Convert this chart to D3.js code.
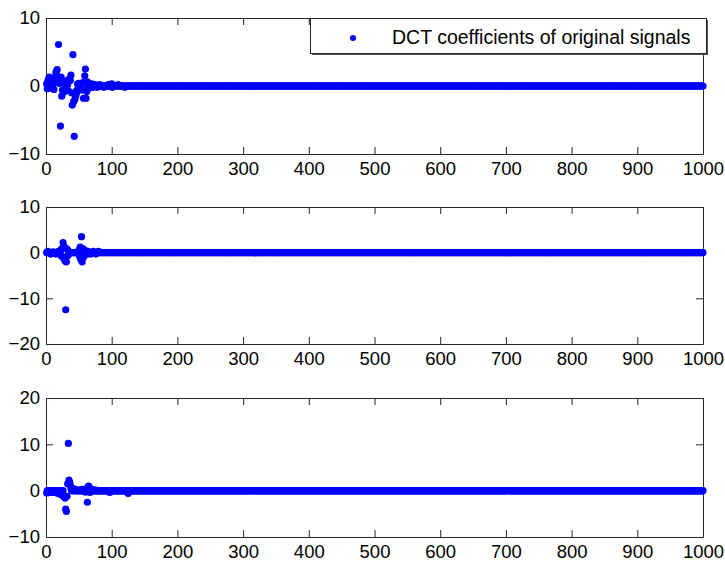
<!DOCTYPE html>
<html>
<head>
<meta charset="utf-8">
<script src="https://cdn.jsdelivr.net/npm/d3@7"></script>
<style>
  html, body { margin: 0; padding: 0; background: #fff; }
  svg { display: block; }
  .tick text { font-family: "Liberation Sans", Arial, sans-serif; font-size: 18.5px; fill: #000; }
  .legend text { font-family: "Liberation Sans", Arial, sans-serif; font-size: 19.5px; fill: #000; }
</style>
</head>
<body>
<script>
// DCT coefficients, 1000 per signal; only the visibly non-zero ones are listed (index, value)
const N = 1000;

const idx1 = [1, 2, 3, 4, 5, 6, 7, 8, 9, 10, 11, 12, 13, 14, 15, 16, 17, 18, 19, 20,
  21, 22, 23, 24, 25, 26, 27, 28, 29, 30, 31, 32, 33, 34, 35, 36, 37, 38, 39, 40,
  41, 42, 43, 44, 45, 46, 47, 48, 49, 50, 51, 52, 53, 54, 55, 56, 57, 58, 59, 60,
  61, 62, 63, 64, 65, 66, 67, 68, 70, 72, 75, 78, 82, 88, 95, 100, 101, 110, 120];
const val1 = [0.3, -0.4, 0.8, 1.0, 1.3, 0.5, -0.3, 0.9, 0.6, 1.1, 0.4, -0.5, 0.7, 1.2, 1.9, 2.2, 2.4, 0.8, 6.1, 0.4,
  1.0, -5.9, 1.3, -1.5, -0.6, 0.5, -0.9, 0.3, -0.4, 0.6, -0.3, 0.8, 0.2, -0.7, 0.9, 1.1, 0.8, 1.6, -1.0, -2.8,
  4.6, -2.3, -7.4, -2.0, -1.5, -1.2, -0.6, 0.3, -0.6, 0.4, -0.5, 0.2, -0.4, 0.3, -0.6, 0.5, -1.8, 0.4, 1.5, 2.5,
  -1.8, -0.8, 0.6, -0.4, 0.3, -0.3, 0.2, -0.2, 0.3, -0.2, 0.2, -0.2, 0.2, -0.2, 0.2, 0.3, -0.2, 0.2, -0.2];

const idx2 = [3, 7, 11, 15, 19, 21, 22, 23, 24, 25, 26, 27, 28, 29, 30, 31, 32, 33, 34, 35,
  50, 51, 52, 53, 54, 55, 56, 57, 58, 59, 60, 62, 64, 68, 72, 76, 80];
const val2 = [0.3, -0.3, 0.2, -0.3, 0.3, 0.4, -0.5, 0.6, -0.8, 1.0, 2.2, -1.2, 1.3, -1.8, -12.5, -2.0, 0.8, -0.7, 0.4, -0.3,
  0.5, -0.8, 1.2, -1.5, 3.5, -2.0, 0.9, -1.0, 0.6, -0.5, 0.4, -0.4, 0.3, -0.3, 0.3, -0.3, 0.3];

const idx3 = [1, 3, 5, 7, 9, 11, 13, 15, 17, 19, 21, 23, 25, 27, 28, 29, 30, 31, 32, 33,
  34, 35, 36, 37, 38, 40, 42, 45, 50, 55, 60, 62, 63, 64, 65, 66, 67, 70, 75, 97, 125];
const val3 = [-0.5, -0.4, -0.3, -0.4, -0.2, -0.3, -0.3, -0.4, -0.5, -0.6, -0.7, -0.8, -1.0, -1.2, -1.4, -1.6, -4.0, -4.5, -1.2, 1.5,
  10.2, 2.3, 1.8, 1.2, 0.6, 0.5, 0.4, 0.3, 0.2, 0.3, -0.3, 0.5, -2.5, 0.8, 1.0, 0.6, -0.4, 0.3, 0.2, -0.4, -0.6];

const xTicks = [0, 100, 200, 300, 400, 500, 600, 700, 800, 900, 1000];
const yTicks1 = [-10, 0, 10];
const yTicks2 = [-20, -10, 0, 10];
const yTicks3 = [-10, 0, 10, 20];
const yDomain1 = [-10, 10];
const yDomain2 = [-20, 10];
const yDomain3 = [-10, 20];

const legendLabel = "DCT coefficients of original signals";

const W = 725, H = 563;
const BLUE = "#0000ff";
const FRAME = "#262626";

const svg = d3.select("body").append("svg")
    .attr("width", W)
    .attr("height", H);

const panels = [
  { idx: idx1, val: val1, dom: yDomain1, ticks: yTicks1, top: 18, bottom: 154 },
  { idx: idx2, val: val2, dom: yDomain2, ticks: yTicks2, top: 207, bottom: 344 },
  { idx: idx3, val: val3, dom: yDomain3, ticks: yTicks3, top: 398, bottom: 537 }
];

const x = d3.scaleLinear().domain([0, N]).range([46, 703]);
const fmt = d3.format("d");

panels.forEach(p => {
  const y = d3.scaleLinear().domain(p.dom).range([p.bottom, p.top]);

  // sparse -> dense
  const lookup = new Map(p.idx.map((k, j) => [k, p.val[j]]));
  const series = d3.range(1, N + 1).map(i => ({ i, v: lookup.has(i) ? lookup.get(i) : 0 }));

  const g = svg.append("g");

  g.append("g")
      .attr("transform", `translate(0,${p.bottom})`)
      .call(d3.axisBottom(x).tickValues(xTicks).tickFormat(fmt).tickSize(-7).tickSizeOuter(0).tickPadding(8));
  g.append("g")
      .attr("transform", `translate(0,${p.top})`)
      .call(d3.axisTop(x).tickValues(xTicks).tickSize(-7).tickSizeOuter(0).tickFormat(""));
  g.append("g")
      .attr("transform", `translate(${x(0)},0)`)
      .call(d3.axisLeft(y).tickValues(p.ticks).tickFormat(fmt).tickSize(-7).tickSizeOuter(0).tickPadding(6));
  g.append("g")
      .attr("transform", `translate(${x(N)},0)`)
      .call(d3.axisRight(y).tickValues(p.ticks).tickSize(-7).tickSizeOuter(0).tickFormat(""));

  g.selectAll(".domain, .tick line").attr("stroke", FRAME).attr("stroke-width", 1);

  g.append("g")
      .attr("fill", BLUE)
      .selectAll("circle")
      .data(series)
      .join("circle")
      .attr("cx", d => x(d.i))
      .attr("cy", d => y(d.v))
      .attr("r", 3.6);
});

// legend, top-right of first panel
const lg = svg.append("g").attr("class", "legend");
lg.append("rect")
    .attr("x", 312).attr("y", 20).attr("width", 396).attr("height", 35)
    .attr("fill", "#555");
lg.append("rect")
    .attr("x", 310.5).attr("y", 18.5).attr("width", 396).attr("height", 35)
    .attr("fill", "#fff")
    .attr("stroke", FRAME);
lg.append("circle")
    .attr("cx", 353).attr("cy", 38).attr("r", 3)
    .attr("fill", BLUE);
lg.append("text")
    .attr("x", 392).attr("y", 44)
    .text(legendLabel);
</script>
</body>
</html>
